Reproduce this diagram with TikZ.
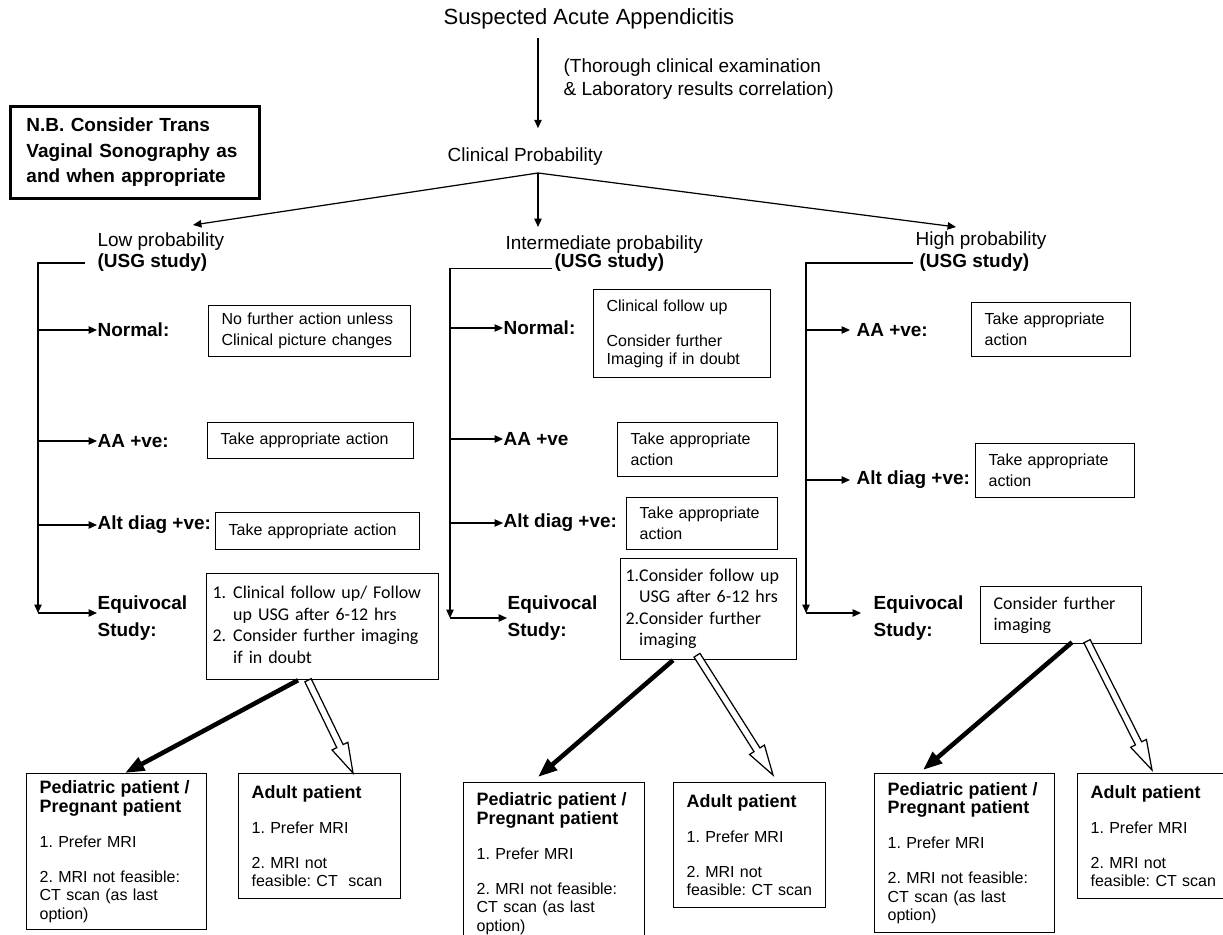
\documentclass[tikz,border=0pt]{standalone}
\usepackage{fontspec}
\setmainfont{Liberation Sans}
\newfontfamily\calibri{Carlito}
\usetikzlibrary{calc}
\usetikzlibrary{arrows.meta}
\frenchspacing

\newcommand\patient[1]{{\fontsize{10.2}{10.5}\selectfont\bfseries #1}}
\newcommand\hollowarrow[2]{%
    \coordinate (hb) at ($(#2)!17pt!(#1)$);
    \draw[line width=0.7pt,fill=white,line join=miter] ($(#1)!2pt!90:(#2)$) -- ($(hb)!2pt!90:(#2)$) -- ($(hb)!5pt!90:(#2)$) -- (#2) -- ($(hb)!5pt!-90:(#2)$) -- ($(hb)!2pt!-90:(#2)$) -- ($(#1)!2pt!-90:(#2)$) -- cycle;}

\begin{document}
\begin{tikzpicture}[x=1cm,y=1cm,>={Triangle[length=4.8pt,width=4.2pt]},line width=0.7pt,
        lbl/.style={inner sep=0pt,anchor=west,font=\fontsize{10.8}{13}\selectfont},
        blbl/.style={lbl,font=\fontsize{10.8}{15.4}\selectfont\bfseries},
        box/.style={draw,anchor=north west,inner xsep=0.26cm,inner ysep=0pt,align=left,font=\fontsize{9.1}{12}\selectfont},
        listbox/.style={box,inner xsep=0.12cm,font=\fontsize{10.2}{12.2}\selectfont\calibri},
        patbox/.style={box,font=\fontsize{9.1}{10.5}\selectfont},
        bold arrow/.style={line width=2.6pt,-{Triangle[length=11pt,width=8pt]}}]
                \useasboundingbox (0,0) rectangle (24.46,-18.68);
                \clip (0,0) rectangle (24.46,-18.68);

                \node[lbl,font=\fontsize{12.5}{15}\selectfont] (title) at (8.86,-0.38) {Suspected Acute Appendicitis};
                \node[lbl,align=left] (exam) at (11.26,-1.59) {(Thorough clinical examination\\\& Laboratory results correlation)};
                \node[lbl] (clinP) at (8.94,-3.14) {Clinical Probability};
                \node[draw,line width=1.7pt,anchor=north west,minimum width=4.98cm,minimum height=1.84cm,text width=4.34cm,inner xsep=0.32cm,align=left,font=\fontsize{10.8}{14.5}\selectfont\bfseries] (nb) at (0.18,-2.1) {N.B. Consider Trans\\Vaginal Sonography as\\and when appropriate};

                \coordinate (split) at (10.76,-3.46);
                \coordinate (lowT) at (3.86,-4.5);
                \coordinate (midT) at (10.76,-4.54);
                \coordinate (highT) at (19.12,-4.54);

                \draw[->,shorten <=4.5pt,shorten >=11pt] (title.south -| split) -- (clinP.north -| split);
                \draw[->] (split) -- (lowT);
                \draw[->] (split) -- (midT);
                \draw[->] (split) -- (highT);

                \node[lbl] (lowP) at (1.94,-4.84) {Low probability};
                \node[blbl] (lowU) at (1.94,-5.26) {(USG study)};
                \node[lbl] (midP) at (10.1,-4.9) {Intermediate probability};
                \node[blbl] (midU) at (11.08,-5.26) {(USG study)};
                \node[lbl] (highP) at (18.3,-4.82) {High probability};
                \node[blbl] (highU) at (18.38,-5.26) {(USG study)};

                \node[blbl] (lowN) at (1.94,-6.6) {Normal:};
                \node[blbl] (lowA) at (1.94,-8.82) {AA +ve:};
                \node[blbl] (lowD) at (1.94,-10.5) {Alt diag +ve:};
                \node[blbl,align=left] (lowE) at (1.94,-12.37) {Equivocal\\Study:};
                \coordinate (lowB) at (0.76,-12.26);

                \draw[->,shorten <=6.8pt] (lowU.west) -| (lowB);
                \draw[->] (lowN.west -| lowB) -- (lowN.west);
                \draw[->] (lowA.west -| lowB) -- (lowA.west);
                \draw[->] (lowD.west -| lowB) -- (lowD.west);
                \draw[->] (lowB) -- (lowE.west |- lowB);

                \node[box,minimum height=1.02cm,text width=3.52cm] (lowNb) at (4.16,-6.1) {No further action unless\\Clinical picture changes};
                \node[box,minimum height=0.72cm,text width=3.6cm] (lowAb) at (4.14,-8.44) {Take appropriate action};
                \node[box,minimum height=0.74cm,text width=3.56cm] (lowDb) at (4.3,-10.24) {Take appropriate action};
                \node[listbox,minimum height=2.12cm,text width=4.4cm] (lowEb) at (4.12,-11.46) {\begin{tabular}{@{}r@{\hspace{0.14cm}}l@{}}1.&Clinical follow up/ Follow\\&up USG after 6-12 hrs\\2.&Consider further imaging\\&if in doubt\end{tabular}};

                \node[blbl] (midN) at (10.06,-6.56) {Normal:};
                \node[blbl] (midA) at (10.06,-8.78) {AA +ve};
                \node[blbl] (midD) at (10.06,-10.46) {Alt diag +ve:};
                \node[blbl,align=left] (midE) at (10.14,-12.37) {Equivocal\\Study:};
                \coordinate (midB) at (9.0,-12.36);

                \draw[->,shorten <=1pt] ([yshift=-3pt]midU.west) -| (midB);
                \draw[->] (midN.west -| midB) -- (midN.west);
                \draw[->] (midA.west -| midB) -- (midA.west);
                \draw[->] (midD.west -| midB) -- (midD.west);
                \draw[->] (midB) -- (midE.west |- midB);

                \node[box,minimum height=1.76cm,text width=3.02cm,font=\fontsize{9.1}{10.3}\selectfont] (midNb) at (11.86,-5.78) {Clinical follow up\\[9.6pt]Consider further\\Imaging if in doubt};
                \node[box,minimum height=1.08cm,text width=2.68cm] (midAb) at (12.34,-8.44) {Take appropriate\\action};
                \node[box,minimum height=1.04cm,text width=2.5cm] (midDb) at (12.52,-9.94) {Take appropriate\\action};
                \node[listbox,inner xsep=0.1cm,minimum height=2.02cm,text width=3.32cm] (midEb) at (12.4,-11.16) {\begin{tabular}{@{}r@{}l@{}}1.&Consider follow up\\&USG after 6-12 hrs\\2.&Consider further\\&imaging\end{tabular}};

                \node[blbl] (highA) at (17.12,-6.6) {AA +ve:};
                \node[blbl] (highD) at (17.12,-9.6) {Alt diag +ve:};
                \node[blbl,align=left] (highE) at (17.46,-12.37) {Equivocal\\Study:};
                \coordinate (highB) at (16.12,-12.26);

                \draw[->,shorten <=3.4pt] (highU.west) -| (highB);
                \draw[->,shorten >=3.4pt] (highA.west -| highB) -- (highA.west);
                \draw[->,shorten >=3.4pt] (highD.west -| highB) -- (highD.west);
                \draw[->,shorten >=6.8pt] (highB) -- (highE.west |- highB);

                \node[box,minimum height=1.08cm,text width=2.66cm] (highAb) at (19.42,-6.04) {Take appropriate\\action};
                \node[box,minimum height=1.08cm,text width=2.66cm] (highDb) at (19.5,-8.86) {Take appropriate\\action};
                \node[listbox,inner xsep=0.26cm,minimum height=1.14cm,text width=2.7cm] (highEb) at (19.6,-11.72) {Consider further\\imaging};

                \node[patbox,minimum height=3.12cm,text width=3.08cm] (lowPed) at (0.52,-15.46) {\patient{Pediatric patient /}\\\patient{Pregnant patient}\\[9.4pt]1. Prefer MRI\\[9.4pt]2. MRI not feasible:\\CT scan (as last\\option)};
                \node[patbox,minimum height=2.5cm,text width=2.72cm] (lowAd) at (4.76,-15.46) {\patient{Adult patient}\\[9.4pt]1. Prefer MRI\\[9.4pt]2. MRI not\\feasible: CT~ scan};
                \node[patbox,minimum height=3.24cm,text width=3.1cm] (midPed) at (9.26,-15.64) {\patient{Pediatric patient /}\\\patient{Pregnant patient}\\[9.4pt]1. Prefer MRI\\[9.4pt]2. MRI not feasible:\\CT scan (as last\\option)};
                \node[patbox,minimum height=2.5cm,text width=2.52cm] (midAd) at (13.46,-15.64) {\patient{Adult patient}\\[9.4pt]1. Prefer MRI\\[9.4pt]2. MRI not\\feasible: CT scan};
                \node[patbox,minimum height=3.18cm,text width=3.08cm] (highPed) at (17.48,-15.46) {\patient{Pediatric patient /}\\\patient{Pregnant patient}\\[9.4pt]1. Prefer MRI\\[9.4pt]2. MRI not feasible:\\CT scan (as last\\option)};
                \node[patbox,minimum height=2.5cm,text width=2.7cm] (highAd) at (21.54,-15.46) {\patient{Adult patient}\\[9.4pt]1. Prefer MRI\\[9.4pt]2. MRI not\\feasible: CT scan};

                \coordinate (lowTs) at ($(lowEb.south west)+(1.84,0)$);
                \coordinate (lowTe) at ($(lowPed.north west)+(1.98,0)$);
                \coordinate (lowHs) at ($(lowEb.south west)+(2.04,0)$);
                \coordinate (lowHe) at ($(lowAd.north west)+(2.3,0)$);
                \coordinate (midTs) at ($(midEb.south west)+(1.06,0)$);
                \coordinate (midTe) at ($(midPed.north west)+(1.5,0.1)$);
                \coordinate (midHs) at ($(midEb.south west)+(1.54,0.1)$);
                \coordinate (midHe) at ($(midAd.north west)+(2.0,0.14)$);
                \coordinate (highTs) at ($(highEb.south west)+(1.84,0.04)$);
                \coordinate (highTe) at ($(highPed.north west)+(0.98,0.06)$);
                \coordinate (highHs) at ($(highEb.south west)+(2.14,0.06)$);
                \coordinate (highHe) at ($(highAd.north west)+(1.5,0.06)$);

                \draw[bold arrow] (lowTs) -- (lowTe);
                \draw[bold arrow] (midTs) -- (midTe);
                \draw[bold arrow] (highTs) -- (highTe);
                \hollowarrow{lowHs}{lowHe}
                \hollowarrow{midHs}{midHe}
                \hollowarrow{highHs}{highHe}
            \end{tikzpicture}
\end{document}
